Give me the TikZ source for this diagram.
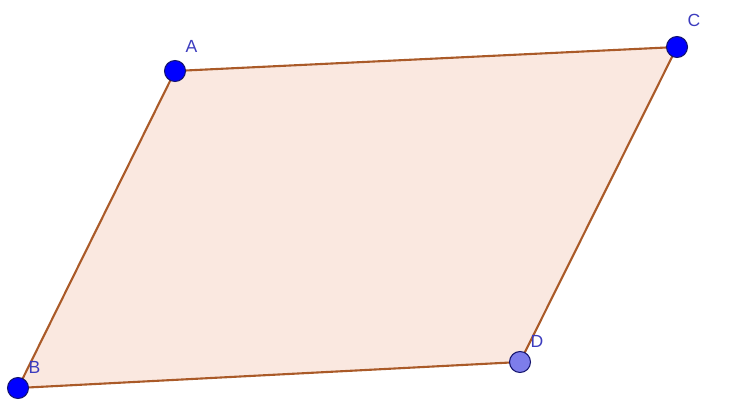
\documentclass[tikz,border=0pt]{standalone}
\usepackage{fontspec}
\setmainfont{Liberation Sans}
\usetikzlibrary{positioning}
\definecolor{edgebrown}{RGB}{170,90,40}
\definecolor{areapeach}{RGB}{250,232,224}
\definecolor{ptblue}{RGB}{0,0,255}
\definecolor{ptlight}{RGB}{125,125,235}
\definecolor{ptedge}{RGB}{20,20,110}
\definecolor{lblblue}{RGB}{60,60,190}

\begin{document}
\begin{tikzpicture}[
        pt/.style={circle, draw=ptedge, line width=0.6pt, fill=ptblue, inner sep=0pt, minimum size=0.42cm},
        freept/.style={pt, fill=ptlight},
        lbl/.style={font=\normalsize, text=lblblue, inner sep=0pt},
        side/.style={draw=edgebrown, line width=1.2pt},
      ]
      \useasboundingbox (0,0) rectangle (14.82,8.02);
      \coordinate (a) at (3.50,6.60);
      \coordinate (c) at (13.54,7.08);
      \coordinate (b) at (0.36,0.26);
      \coordinate (d) at (10.40,0.78);
      \fill [areapeach] (a) -- (c) -- (d) -- (b) -- cycle;
      \draw [side] (a) -- (c);
      \draw [side] (c) -- (d);
      \draw [side] (d) -- (b);
      \draw [side] (b) -- (a);
      \node [pt] (ptA) at (a) {};
      \node [pt] (ptC) at (c) {};
      \node [pt] (ptB) at (b) {};
      \node [freept] (ptD) at (d) {};
      \node [lbl, above right=0.2cm and 0.05cm of ptA] (lblA) {A};
      \node [lbl, above right=0.25cm and 0.05cm of ptC] (lblC) {C};
      \node [lbl, above right=0.12cm and 0.05cm of ptB] (lblB) {B};
      \node [lbl, above right=0.12cm and 0.05cm of ptD] (lblD) {D};
    \end{tikzpicture}
\end{document}
